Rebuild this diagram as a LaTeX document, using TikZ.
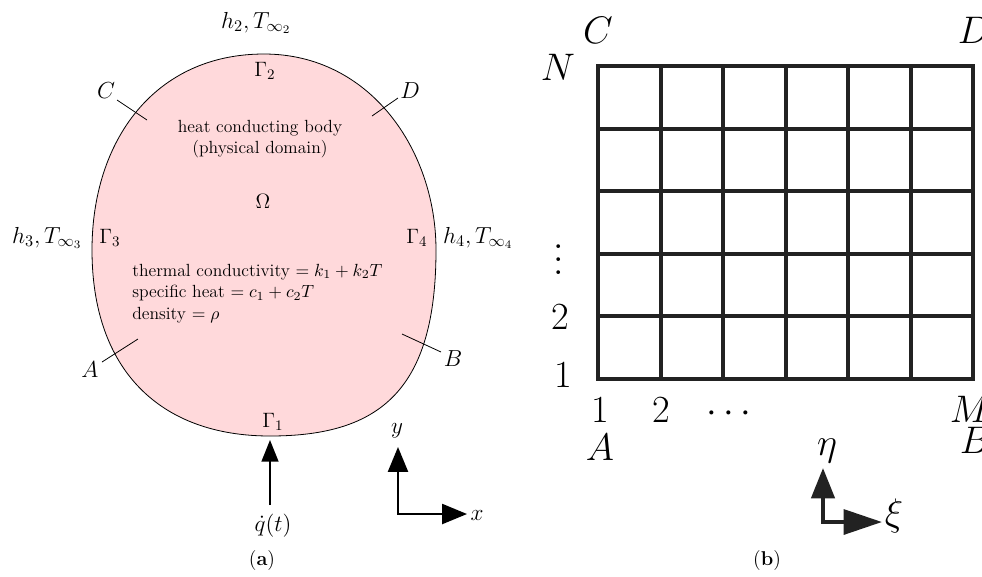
\RequirePackage{fix-cm}
\documentclass[tikz,border=0pt]{standalone}
\usepackage{xcolor}
\usepackage{graphicx}
\usetikzlibrary{arrows.meta,positioning,calc}
\definecolor{bodypink}{HTML}{FFD9DB}
\definecolor{meshdark}{HTML}{222222}
\tikzset{
  body/.style={draw=black, line width=0.5pt, fill=bodypink},
  cornertick/.style={draw=black, line width=0.5pt},
  mesh/.style={draw=meshdark, line width=2.5pt},
  flux/.style={-{Triangle[length=13.5pt,width=10.5pt]}, draw=black, line width=1.2pt},
  axispair/.style={{Triangle[length=15.5pt,width=12.5pt]}-{Triangle[length=15.5pt,width=12.5pt]}, draw=black, line width=1.2pt},
  meshaxes/.style={{Triangle[length=19pt,width=14.5pt]}-{Triangle[length=24pt,width=15.5pt]}, draw=meshdark, line width=2.5pt},
  bodytext/.style={font=\fontsize{11}{13.4}\selectfont, inner sep=0pt},
  bndlabel/.style={font=\fontsize{13}{15}\selectfont, inner sep=0pt, anchor=base},
  ptlabel/.style={font=\fontsize{14.5}{17}\selectfont, inner sep=0pt, anchor=base},
  meshlabel/.style={font=\fontsize{24}{28}\selectfont, inner sep=0pt, anchor=base},
  subcap/.style={font=\fontsize{12.5}{15}\selectfont, inner sep=0pt, anchor=base}
}

\begin{document}
\begin{tikzpicture}[x=0.625pt, y=-0.625pt]
  \useasboundingbox (0,0) rectangle (982,576);

  % (a) physical domain
  \draw[body] (264,54) .. controls (370,54) and (436,150) .. (436,250)
    .. controls (436,390) and (380,436) .. (270,436)
    .. controls (160,436) and (92,370) .. (92,250)
    .. controls (92,140) and (155,54) .. (264,54) -- cycle;

  \node[ptlabel] (h2) at (256,28) {$h_2, T_{\infty_2}$};
  \node[bndlabel] (G2) at (265,76) {$\Gamma_2$};
  \node[bodytext, align=center] (name) at (260,139) {heat conducting body\\(physical domain)};
  \node[bndlabel] (Om) at (263,208) {$\Omega$};
  \node[ptlabel] (h3) at (47,243) {$h_3, T_{\infty_3}$};
  \node[bndlabel] (G3) at (110,243) {$\Gamma_3$};
  \node[bndlabel] (G4) at (417,243) {$\Gamma_4$};
  \node[ptlabel] (h4) at (478,243) {$h_4, T_{\infty_4}$};
  \node[bodytext, align=left, anchor=base west] (props) at (132,319) {thermal conductivity $= k_1 + k_2T$\\specific heat $= c_1 + c_2T$\\density $= \rho$};
  \node[bndlabel] (G1) at (273,427) {$\Gamma_1$};

  \node[ptlabel] (C) at (106,98) {$C$};
  \node[ptlabel] (D) at (410,98) {$D$};
  \node[ptlabel] (A) at (90,377) {$A$};
  \node[ptlabel] (B) at (453,366) {$B$};
  \coordinate (Cout) at (117,100);
  \coordinate (Cin) at (147,120);
  \coordinate (Dout) at (398,98);
  \coordinate (Din) at (372,116);
  \coordinate (Aout) at (102,362);
  \coordinate (Ain) at (138,339);
  \coordinate (Bout) at (441,352);
  \coordinate (Bin) at (402,334);
  \draw[cornertick] (Cout) -- (Cin);
  \draw[cornertick] (Dout) -- (Din);
  \draw[cornertick] (Aout) -- (Ain);
  \draw[cornertick] (Bout) -- (Bin);

  \node[ptlabel] (qdot) at (273,531) {$\dot{q}(t)$};
  \coordinate (qtail) at (270,505);
  \coordinate (qtip) at (270,440);
  \draw[flux] (qtail) -- (qtip);

  \coordinate (ytip) at (398,447);
  \coordinate (xtip) at (467,514);
  \draw[axispair] (ytip) |- (xtip);
  \node[ptlabel] (ylab) at (397,433) {$y$};
  \node[ptlabel] (xlab) at (477,520) {$x$};

  \node[subcap] (capa) at (262,565) {(\textbf{a})};

  % (b) computational mesh
  \foreach \i in {0,...,6}
    \draw[mesh] (598+62.5*\i,66) -- (598+62.5*\i,379);
  \foreach \j in {0,...,5}
    \draw[mesh] (598,66+62.6*\j) -- (973,66+62.6*\j);
  \draw[mesh] (598,66) rectangle (973,379);

  \node[meshlabel] (mC) at (598,43) {$C$};
  \node[meshlabel] (mD) at (974,43) {$D$};
  \node[meshlabel] (mN) at (558,80) {$N$};
  \node[meshlabel, anchor=center] (mvd) at (559,250) {\scalebox{2}{\fontsize{12}{14}\selectfont$\vdots$}};
  \node[meshlabel] (m2l) at (560,329) {$2$};
  \node[meshlabel] (m1l) at (563,387) {$1$};
  \node[meshlabel] (m1b) at (600,422) {$1$};
  \node[meshlabel] (m2b) at (661,422) {$2$};
  \node[meshlabel] (mcd) at (729,422) {$\cdots$};
  \node[meshlabel] (mM) at (970,422) {$M$};
  \node[meshlabel] (mA) at (600,460) {$A$};
  \node[meshlabel] (mB) at (975,453) {$B$};

  \coordinate (etatip) at (823,468);
  \coordinate (xitip) at (882,522);
  \draw[meshaxes] (etatip) |- (xitip);
  \node[meshlabel] (eta) at (827,455) {$\eta$};
  \node[meshlabel] (xi) at (894,525) {$\xi$};

  \node[subcap] (capb) at (767,565) {(\textbf{b})};
\end{tikzpicture}
\end{document}
